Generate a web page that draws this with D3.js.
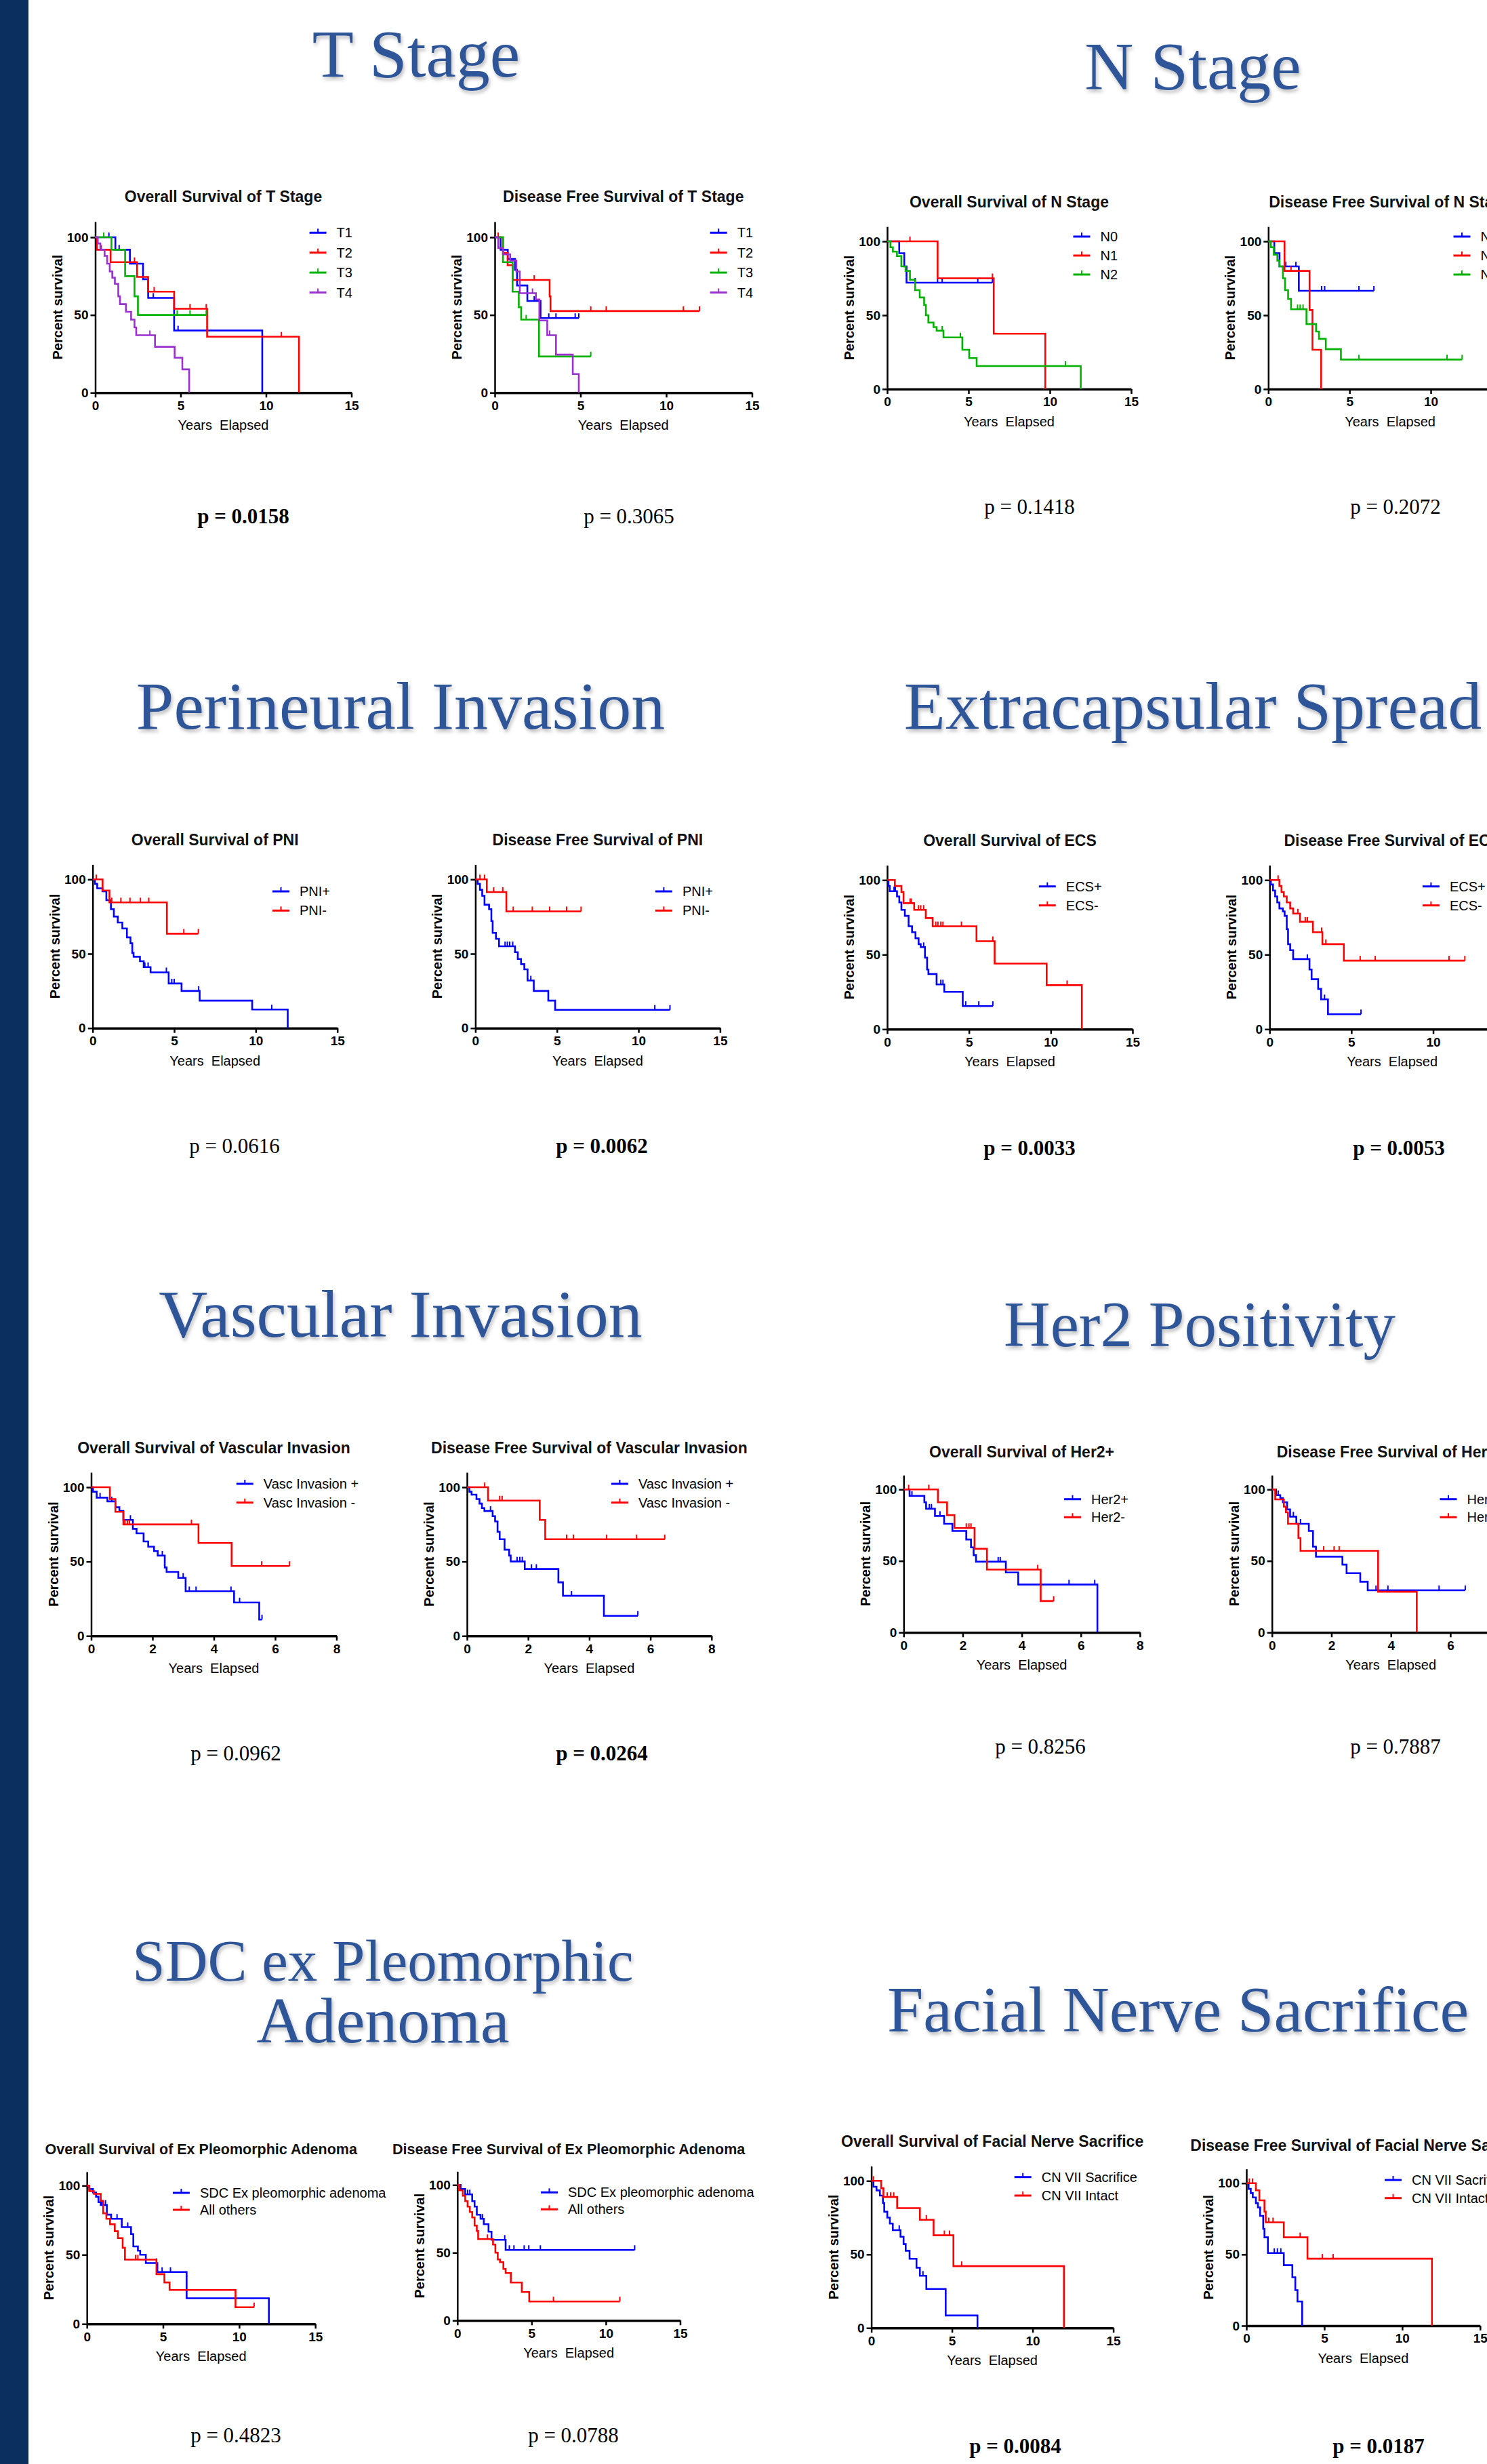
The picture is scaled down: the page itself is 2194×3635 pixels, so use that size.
<!DOCTYPE html>
<html><head><meta charset="utf-8">
<script src="https://cdn.jsdelivr.net/npm/d3@7"></script>
<style>body{margin:0;background:#fff}svg{display:block}</style>
</head><body>
<svg id="chart" width="2194" height="3635"></svg>
<script>
// ===== DATA: steps = [years, % survival after the drop]; cens = censor times =====
const osT_T1 = [[1.18,92],[2.03,83],[2.8,73],[3.1,61],[4.62,40],[9.78,0]];
const osT_T1c = [0.8,1.4,3.4,4.85];
const osT_T2 = [[0.1,92],[0.9,84],[2.45,74.5],[3.1,65],[4.62,54],[6.55,36],[11.93,0]];
const osT_T2c = [0.35,2.3,3.45,5.55,6.5,10.9];
const osT_T3 = [[0.95,92],[1.75,75],[2.3,62],[2.5,50]];
const osT_T3c = [0.5,4.8,5.55,6.5];
const osT_T4 = [[0.15,96],[0.3,92],[0.55,88],[0.7,83],[0.85,78],[1.0,74],[1.15,70],[1.35,62],[1.45,57],[1.8,52],[2.1,47],[2.3,42],[2.4,37],[3.5,29.5],[4.65,22.5],[5.1,15],[5.5,0]];
const osT_T4c = [3.2];

const dfsT_T1 = [[0.34,92],[0.76,86],[1.18,79],[1.3,69],[1.9,59],[2.67,48]];
const dfsT_T1c = [2.3,3.15,3.57,4.69,4.9];
const dfsT_T2 = [[0.48,90],[0.75,82],[1.04,72.5],[3.2,62],[3.25,52.5]];
const dfsT_T2c = [0.2,2.3,5.6,6.5,11,11.94];
const dfsT_T3 = [[0.48,84],[1.04,65],[1.4,55],[1.54,47],[2.58,23.3]];
const dfsT_T3c = [1.83,5.6];
const dfsT_T4 = [[0.2,93],[0.48,89],[0.9,85],[1.26,78],[1.46,64],[2.4,60],[2.6,46.5],[3.06,37],[3.57,24.5],[4.55,12],[4.9,0]];
const dfsT_T4c = [2.2,3.2];

const osN_N0 = [[0.74,92],[1.05,83],[1.19,72]];
const osN_N0c = [1.72,3.1,3.38,5.57,6.47];
const osN_N1 = [[3.1,75],[6.55,37.5],[9.72,0]];
const osN_N1c = [1.4,6.47];
const osN_N2 = [[0.2,96],[0.35,93],[0.6,90],[0.87,83],[1.13,80],[1.4,74],[1.72,67],[2.0,62],[2.27,57],[2.38,50],[2.53,45],[2.85,42],[3.04,39.5],[3.46,35],[4.62,26.6],[5.04,21],[5.5,15.6],[11.9,0]];
const osN_N2c = [3.38,4.5,10.96];

const dfsN_N0 = [[0.37,92],[0.69,83],[1.88,66.5]];
const dfsN_N0c = [1.08,1.7,3.28,3.47,5.58,6.5];
const dfsN_N1 = [[1.0,80],[2.54,53.5],[2.72,26.6],[3.25,0]];
const dfsN_N1c = [1.4];
const dfsN_N2 = [[0.16,96],[0.34,91],[0.56,87],[0.69,83],[0.9,75],[1.03,67],[1.22,61],[1.4,54],[2.35,44],[2.94,39],[3.12,34],[3.54,27],[4.47,20]];
const dfsN_N2c = [1.8,1.96,2.14,5.58,11.0,11.93];

const osPNI_pos = [[0.14,97],[0.28,94],[0.6,92],[0.84,86],[1.12,80],[1.3,75],[1.54,71],[1.82,67],[2.1,61],[2.32,57],[2.43,50.5],[2.51,48],[2.9,45],[3.13,41],[3.55,37.5],[4.66,30],[5.45,25],[6.56,18.5],[9.78,12.5],[11.96,0]];
const osPNI_posc = [3.2,3.4,4.52,4.85,5.0,6.5,10.98];
const osPNI_neg = [[0.61,92.5],[1.03,84.5],[4.55,63.5]];
const osPNI_negc = [0.22,1.17,1.73,2.29,2.93,3.44,5.59,6.48];

const dfsPNI_pos = [[0.14,97],[0.28,93],[0.42,89],[0.56,83],[0.84,80],[0.98,72],[1.06,64],[1.26,60],[1.45,55],[2.43,51],[2.6,46.5],[2.8,43],[3.0,39.5],[3.2,32],[3.58,25],[4.47,18.5],[4.89,12.3]];
const dfsPNI_posc = [1.82,1.96,2.1,2.29,3.4,11.0,11.93];
const dfsPNI_neg = [[0.7,91.5],[1.9,78.5]];
const dfsPNI_negc = [0.28,0.56,1.12,1.68,2.32,3.49,4.55,5.59,6.48];

const osECS_pos = [[0.08,96],[0.16,92.5],[0.6,89],[0.74,85],[0.87,80],[1.08,76],[1.31,69],[1.52,65],[1.73,61],[1.92,57],[2.05,55],[2.31,48],[2.44,40],[2.52,37],[3.02,30],[3.49,25],[4.62,15.5]];
const osECS_posc = [0.42,0.5,2.23,3.28,3.41,4.8,5.6,6.46];
const osECS_neg = [[0.47,96],[0.87,92],[1.0,84.5],[1.65,80],[2.36,74.5],[2.78,69],[5.46,59],[6.57,44],[9.75,29.5],[11.9,0]];
const osECS_negc = [1.4,1.47,1.92,2.05,2.23,2.97,3.1,3.28,3.41,4.54,6.46,11.0];

const dfsECS_pos = [[0.08,97],[0.21,93],[0.34,89],[0.47,85],[0.6,81],[0.81,79],[0.92,76],[1.05,67],[1.13,57],[1.26,53],[1.44,47],[2.44,40],[2.57,33.5],[2.97,27],[3.15,20],[3.57,10]];
const dfsECS_posc = [2.31,3.36,5.59];
const dfsECS_neg = [[0.6,96],[0.73,92],[0.87,89],[1.05,85],[1.26,81],[1.44,77.5],[1.86,72],[2.65,65],[3.23,57],[4.54,46]];
const dfsECS_negc = [0.52,1.73,2.18,2.31,3.18,3.44,5.54,6.46,10.97,11.94];

const osVasc_pos = [[0.06,97],[0.18,93],[0.53,90.5],[0.79,86.5],[0.92,84],[1.05,78],[1.36,72],[1.48,69],[1.71,63.5],[1.86,60],[2.05,57],[2.17,54],[2.4,46],[2.46,43],[2.84,39],[3.08,30],[4.66,22.5],[5.48,11]];
const osVasc_posc = [0.29,0.67,1.28,2.32,3.0,3.2,3.42,4.56,4.84,5.57];
const osVasc_neg = [[0.61,92],[0.79,83.5],[1.05,75],[3.5,62.5],[4.58,47]];
const osVasc_negc = [1.1,1.18,1.25,3.27,5.56,6.47];

const dfsVasc_pos = [[0.08,97],[0.15,95],[0.31,92],[0.41,89],[0.49,86],[0.57,84],[0.84,80.5],[0.92,77],[1.0,70],[1.07,65],[1.23,58],[1.38,54],[1.43,50],[1.89,45],[2.99,36],[3.14,27],[4.48,13.5]];
const dfsVasc_posc = [0.77,1.64,1.73,1.81,2.11,2.27,3.42,5.59];
const dfsVasc_neg = [[0.69,91],[2.38,78],[2.56,65]];
const dfsVasc_negc = [0.58,1.07,1.15,3.26,3.48,4.57,5.55,6.47];

const osHer2_pos = [[0.2,95.5],[0.7,91],[0.76,86.5],[1.06,81.5],[1.37,76],[1.65,71],[2.12,65],[2.28,59.5],[2.37,54],[2.45,49.5],[3.46,42],[3.88,33.5],[6.56,0]];
const osHer2_posc = [0.28,0.87,0.94,1.23,3.2,3.27,5.6,6.47];
const osHer2_neg = [[1.16,91],[1.47,82],[1.72,73],[2.4,58.5],[2.82,44],[4.64,22]];
const osHer2_negc = [0.17,0.85,2.12,2.21,2.28,4.54,5.08];

const dfsHer2_pos = [[0.14,96],[0.28,94],[0.37,91],[0.51,86],[0.61,81],[0.82,76],[1.24,71],[1.38,60],[1.48,53],[2.37,47.5],[2.51,41.5],[2.97,35.5],[3.22,29.5]];
const dfsHer2_posc = [0.21,0.72,0.96,3.5,3.9,5.62,6.5];
const dfsHer2_neg = [[0.11,93],[0.4,88],[0.47,84],[0.54,76],[0.89,66],[0.96,57],[3.57,28.5],[4.87,0]];
const dfsHer2_negc = [1.74,2.09,2.26];

const osSDC_pos = [[0.15,97.5],[0.4,95],[0.6,92],[0.76,88],[0.91,86],[1.31,79],[1.59,76],[2.29,70],[2.9,65],[3.05,56],[3.35,53],[3.5,50],[3.87,44],[4.63,37.5],[6.55,18.5],[11.95,0]];
const osSDC_posc = [1.0,1.22,1.98,2.68,4.57,4.94,5.49];
const osSDC_oth = [[0.15,96],[0.46,94],[0.91,89],[1.07,80],[1.28,76],[1.52,72],[1.83,67],[2.04,62],[2.35,55],[2.5,46.5],[4.57,36],[5.09,30],[5.43,24.5],[9.76,12]];
const osSDC_othc = [3.2,3.35,10.98];

const dfsSDC_pos = [[0.22,97],[0.53,93],[1.0,88],[1.16,84],[1.31,78],[1.56,75],[1.78,71],[2.1,65.5],[2.3,59.5],[3.25,52]];
const dfsSDC_posc = [0.69,0.84,1.69,3.19,3.5,3.81,4.5,4.81,5.59,11.94];
const dfsSDC_oth = [[0.12,96],[0.37,92],[0.53,88],[0.69,84],[0.84,80],[1.0,76],[1.16,70],[1.31,66],[1.4,60],[2.4,56],[2.56,50],[2.72,45],[2.87,43],[3.1,38],[3.25,35],[3.6,28],[4.34,21],[4.84,14]];
const dfsSDC_othc = [2.03,6.47,10.94];

const osCN_sac = [[0.13,96],[0.32,93.5],[0.53,90],[0.72,85],[0.8,79],[0.99,75],[1.15,71],[1.33,66.5],[1.81,62],[2.0,57],[2.13,52.5],[2.37,47],[2.8,41],[3.01,35.5],[3.41,26.5],[4.61,8.5],[6.58,0]];
const osCN_sacc = [1.73,3.2];
const osCN_int = [[0.61,95],[0.75,89],[1.6,81.5],[3.01,73.5],[3.86,63],[5.09,42],[11.94,0]];
const osCN_intc = [0.13,0.99,1.2,1.39,3.41,4.53,4.85,5.6];

const dfsCN_sac = [[0.14,96],[0.28,93],[0.41,90],[0.61,86],[0.74,83],[0.88,77],[1.08,68],[1.16,62],[1.38,51],[2.4,42.5],[2.95,34],[3.14,25],[3.28,17],[3.58,0]];
const dfsCN_sacc = [1.79,1.99,2.21];
const dfsCN_int = [[0.61,95],[0.83,88],[1.16,80],[1.24,72.5],[2.4,62],[3.92,47],[11.91,0]];
const dfsCN_intc = [0.19,0.39,1.43,1.71,3.45,4.88,5.57];

// ticks
const ticks15 = [0,5,10,15];
const ticks8 = [0,2,4,6,8];
const yTicks = [0,50,100];

// section headings
const headingTexts = ["T Stage","N Stage","Perineural Invasion","Extracapsular Spread","Vascular Invasion","Her2 Positivity","SDC ex Pleomorphic","Adenoma","Facial Nerve Sacrifice"];

// plot definitions
const plots = [
  {id:"A", title:"Overall Survival of T Stage", xMax:15, xTicks:ticks15, p:"p = 0.0158", sig:true,
   series:[["T1",osT_T1,osT_T1c,"b"],["T2",osT_T2,osT_T2c,"r"],["T3",osT_T3,osT_T3c,"g"],["T4",osT_T4,osT_T4c,"p"]]},
  {id:"B", title:"Disease Free Survival of T Stage", xMax:15, xTicks:ticks15, p:"p = 0.3065", sig:false,
   series:[["T1",dfsT_T1,dfsT_T1c,"b"],["T2",dfsT_T2,dfsT_T2c,"r"],["T3",dfsT_T3,dfsT_T3c,"g"],["T4",dfsT_T4,dfsT_T4c,"p"]]},
  {id:"C", title:"Overall Survival of N Stage", xMax:15, xTicks:ticks15, p:"p = 0.1418", sig:false,
   series:[["N0",osN_N0,osN_N0c,"b"],["N1",osN_N1,osN_N1c,"r"],["N2",osN_N2,osN_N2c,"g"]]},
  {id:"D", title:"Disease Free Survival of N Stage", xMax:15, xTicks:ticks15, p:"p = 0.2072", sig:false,
   series:[["N0",dfsN_N0,dfsN_N0c,"b"],["N1",dfsN_N1,dfsN_N1c,"r"],["N2",dfsN_N2,dfsN_N2c,"g"]]},
  {id:"E", title:"Overall Survival of PNI", xMax:15, xTicks:ticks15, p:"p = 0.0616", sig:false,
   series:[["PNI+",osPNI_pos,osPNI_posc,"b"],["PNI-",osPNI_neg,osPNI_negc,"r"]]},
  {id:"F", title:"Disease Free Survival of PNI", xMax:15, xTicks:ticks15, p:"p = 0.0062", sig:true,
   series:[["PNI+",dfsPNI_pos,dfsPNI_posc,"b"],["PNI-",dfsPNI_neg,dfsPNI_negc,"r"]]},
  {id:"G", title:"Overall Survival of ECS", xMax:15, xTicks:ticks15, p:"p = 0.0033", sig:true,
   series:[["ECS+",osECS_pos,osECS_posc,"b"],["ECS-",osECS_neg,osECS_negc,"r"]]},
  {id:"H", title:"Disease Free Survival of ECS", xMax:15, xTicks:ticks15, p:"p = 0.0053", sig:true,
   series:[["ECS+",dfsECS_pos,dfsECS_posc,"b"],["ECS-",dfsECS_neg,dfsECS_negc,"r"]]},
  {id:"I", title:"Overall Survival of Vascular Invasion", xMax:8, xTicks:ticks8, p:"p = 0.0962", sig:false,
   series:[["Vasc Invasion +",osVasc_pos,osVasc_posc,"b"],["Vasc Invasion -",osVasc_neg,osVasc_negc,"r"]]},
  {id:"J", title:"Disease Free Survival of Vascular Invasion", xMax:8, xTicks:ticks8, p:"p = 0.0264", sig:true,
   series:[["Vasc Invasion +",dfsVasc_pos,dfsVasc_posc,"b"],["Vasc Invasion -",dfsVasc_neg,dfsVasc_negc,"r"]]},
  {id:"K", title:"Overall Survival of Her2+", xMax:8, xTicks:ticks8, p:"p = 0.8256", sig:false,
   series:[["Her2+",osHer2_pos,osHer2_posc,"b"],["Her2-",osHer2_neg,osHer2_negc,"r"]]},
  {id:"L", title:"Disease Free Survival of Her2+", xMax:8, xTicks:ticks8, p:"p = 0.7887", sig:false,
   series:[["Her2+",dfsHer2_pos,dfsHer2_posc,"b"],["Her2-",dfsHer2_neg,dfsHer2_negc,"r"]]},
  {id:"M", title:"Overall Survival of Ex Pleomorphic Adenoma", xMax:15, xTicks:ticks15, p:"p = 0.4823", sig:false,
   series:[["SDC Ex pleomorphic adenoma",osSDC_pos,osSDC_posc,"b"],["All others",osSDC_oth,osSDC_othc,"r"]]},
  {id:"N", title:"Disease Free Survival of Ex Pleomorphic Adenoma", xMax:15, xTicks:ticks15, p:"p = 0.0788", sig:false,
   series:[["SDC Ex pleomorphic adenoma",dfsSDC_pos,dfsSDC_posc,"b"],["All others",dfsSDC_oth,dfsSDC_othc,"r"]]},
  {id:"O", title:"Overall Survival of Facial Nerve Sacrifice", xMax:15, xTicks:ticks15, p:"p = 0.0084", sig:true,
   series:[["CN VII Sacrifice",osCN_sac,osCN_sacc,"b"],["CN VII Intact",osCN_int,osCN_intc,"r"]]},
  {id:"P", title:"Disease Free Survival of Facial Nerve Sacrifice", xMax:15, xTicks:ticks15, p:"p = 0.0187", sig:true,
   series:[["CN VII Sacrifice",dfsCN_sac,dfsCN_sacc,"b"],["CN VII Intact",dfsCN_int,dfsCN_intc,"r"]]}
];

// ===== LAYOUT & STYLE =====
const headingPos = [
  {x:614, y:113, fs:100},
  {x:1760, y:131, fs:100},
  {x:591, y:1075, fs:100},
  {x:1760, y:1075, fs:100},
  {x:591, y:1972, fs:100},
  {x:1770, y:1986, fs:95},
  {x:565, y:2922, fs:87},
  {x:565, y:3013, fs:96},
  {x:1738, y:2997, fs:96}
];
const layout = {
  A:{ox:140.5,oy:579.3,w:378,h:229.3,ty:290,lx:456.6,ly:343.3,lg:29.4,px:359,py:761,tf:23},
  B:{ox:730,oy:579.3,w:379.5,h:229.3,ty:290,lx:1047.7,ly:343.3,lg:29.4,px:928,py:761,tf:23},
  C:{ox:1309,oy:574,w:360,h:218,ty:298,lx:1583.5,ly:349,lg:28,px:1519,py:747,tf:23},
  D:{ox:1871.3,oy:574,w:359.6,h:218,ty:298,lx:2144.5,ly:349,lg:28,px:2059,py:747,tf:23},
  E:{ox:136.7,oy:1516.7,w:361,h:219.4,ty:1239,lx:402,ly:1315,lg:28.3,px:346,py:1690,tf:23},
  F:{ox:701.4,oy:1516.7,w:361,h:219.4,ty:1239,lx:966.9,ly:1315,lg:28.3,px:888,py:1690,tf:23},
  G:{ox:1309,oy:1518.3,w:362,h:220,ty:1240,lx:1532.8,ly:1307.7,lg:28,px:1519,py:1693,tf:23},
  H:{ox:1873.2,oy:1518.3,w:362,h:220,ty:1240,lx:2098.9,ly:1307.7,lg:28,px:2064,py:1693,tf:23},
  I:{ox:134.5,oy:2413.3,w:362,h:219.3,ty:2136,lx:348.8,ly:2189,lg:27.7,px:348,py:2586,tf:23},
  J:{ox:689,oy:2413.3,w:360.8,h:219.3,ty:2136,lx:901.9,ly:2189,lg:27.7,px:888,py:2586,tf:23},
  K:{ox:1333.3,oy:2408.3,w:348.6,h:211,ty:2141.7,lx:1570,ly:2211.7,lg:26.6,px:1535,py:2576,tf:23},
  L:{ox:1876.7,oy:2408.3,w:351,h:211,ty:2141.7,lx:2124.5,ly:2211.7,lg:26.6,px:2059,py:2576,tf:23},
  M:{ox:128.2,oy:3428.3,w:337,h:204,ty:3170,lx:254.9,ly:3235,lg:25,px:348,py:3592,tf:21.5},
  N:{ox:674.8,oy:3423.3,w:328.7,h:200,ty:3170.7,lx:798,ly:3234.3,lg:25,px:846,py:3592,tf:21.5},
  O:{ox:1285.6,oy:3434.3,w:357,h:217,ty:3159.3,lx:1496.7,ly:3211.7,lg:27.3,px:1498,py:3608,tf:23},
  P:{ox:1839,oy:3431,w:344.8,h:210.3,ty:3165,lx:2043,ly:3216,lg:26.7,px:2034,py:3608,tf:23}
};
const colors = {b:"#0000ff", r:"#ff0000", g:"#00b200", p:"#9b30d0"};
const sans = "'Liberation Sans', Arial, sans-serif";
const serif = "'Liberation Serif', 'Times New Roman', serif";

const svg = d3.select("#chart");
const defs = svg.append("defs");
const flt = defs.append("filter").attr("id","shadow").attr("x","-5%").attr("y","-20%").attr("width","115%").attr("height","150%");
flt.append("feDropShadow").attr("dx",2).attr("dy",4).attr("stdDeviation",2.5).attr("flood-color","#000").attr("flood-opacity",0.25);

svg.append("rect").attr("x",0).attr("y",0).attr("width",42).attr("height",3635).attr("fill","#0b2f5e");

svg.append("g").selectAll("text").data(headingTexts).join("text")
  .attr("x",(d,i)=>headingPos[i].x).attr("y",(d,i)=>headingPos[i].y).attr("text-anchor","middle")
  .attr("font-family",serif).attr("font-size",(d,i)=>headingPos[i].fs).attr("fill","#2f5597")
  .attr("filter","url(#shadow)").text(d=>d);

function survAt(steps, t){
  let s = 100;
  for (const [tt, ss] of steps){ if (tt <= t + 1e-9) s = ss; else break; }
  return s;
}

function drawPlot(spec, L){
  const g = svg.append("g");
  const x = d3.scaleLinear().domain([0, spec.xMax]).range([L.ox, L.ox + L.w]);
  const y = d3.scaleLinear().domain([0, 110]).range([L.oy, L.oy - L.h * 1.1]);

  g.append("text").attr("x", L.ox + L.w/2).attr("y", L.ty).attr("dy","0.35em")
    .attr("text-anchor","middle").attr("font-family",sans).attr("font-weight","bold")
    .attr("font-size",L.tf).attr("fill","#111").text(spec.title);

  const gx = g.append("g").attr("transform",`translate(0,${L.oy})`)
    .call(d3.axisBottom(x).tickValues(spec.xTicks).tickSize(7).tickSizeOuter(0).tickPadding(5));
  gx.select(".domain").attr("stroke","#000").attr("stroke-width",3.5);
  gx.selectAll(".tick line").attr("stroke","#000").attr("stroke-width",2.5);
  gx.selectAll(".tick text").attr("font-family",sans).attr("font-weight","bold").attr("font-size",19).attr("fill","#000");

  const gy = g.append("g").attr("transform",`translate(${L.ox},0)`)
    .call(d3.axisLeft(y).tickValues(yTicks).tickSize(7).tickSizeOuter(0).tickPadding(3));
  gy.select(".domain").attr("stroke","#000").attr("stroke-width",2.5);
  gy.selectAll(".tick line").attr("stroke","#000").attr("stroke-width",2.5);
  gy.selectAll(".tick text").attr("font-family",sans).attr("font-weight","bold").attr("font-size",19).attr("fill","#000");

  g.append("text").attr("transform",`translate(${L.ox - 56},${y(55)}) rotate(-90)`)
    .attr("text-anchor","middle").attr("dy","0.35em").attr("font-family",sans)
    .attr("font-weight","bold").attr("font-size",20).attr("fill","#000").text("Percent survival");
  g.append("text").attr("x", L.ox + L.w/2).attr("y", L.oy + 48).attr("dy","0.35em")
    .attr("text-anchor","middle").attr("font-family",sans).attr("font-size",20).attr("fill","#000")
    .text("Years\u00a0\u00a0Elapsed");

  const line = d3.line().x(d=>x(d[0])).y(d=>y(d[1])).curve(d3.curveStepAfter);

  spec.series.forEach(([label, steps, cens, col], i) => {
    const color = colors[col];
    const lastT = steps.length ? steps[steps.length-1][0] : 0;
    const end = Math.max(lastT, cens.length ? d3.max(cens) : 0);
    const pts = [[0,100], ...steps];
    if (end > lastT) pts.push([end, steps.length ? steps[steps.length-1][1] : 100]);
    g.append("path").attr("d", line(pts)).attr("fill","none").attr("stroke",color)
      .attr("stroke-width",2.6).attr("stroke-linejoin","miter");
    g.append("g").selectAll("line").data(cens).join("line")
      .attr("x1",d=>x(d)).attr("x2",d=>x(d))
      .attr("y1",d=>y(survAt(steps,d))).attr("y2",d=>y(survAt(steps,d)) - 7)
      .attr("stroke",color).attr("stroke-width",2);

    const ly = L.ly + i * L.lg;
    g.append("line").attr("x1",L.lx).attr("x2",L.lx+25).attr("y1",ly).attr("y2",ly)
      .attr("stroke",color).attr("stroke-width",3);
    g.append("line").attr("x1",L.lx+12.5).attr("x2",L.lx+12.5).attr("y1",ly).attr("y2",ly-6)
      .attr("stroke",color).attr("stroke-width",2);
    g.append("text").attr("x",L.lx+40).attr("y",ly).attr("dy","0.35em")
      .attr("font-family",sans).attr("font-size",20).attr("fill","#000").text(label);
  });

  svg.append("text").attr("x",L.px).attr("y",L.py).attr("dy","0.35em").attr("text-anchor","middle")
    .attr("font-family",serif).attr("font-size",31).attr("font-weight", spec.sig ? "bold" : "normal")
    .attr("fill","#000").text(spec.p);
}

plots.forEach(p => drawPlot(p, layout[p.id]));
</script>
</body></html>
